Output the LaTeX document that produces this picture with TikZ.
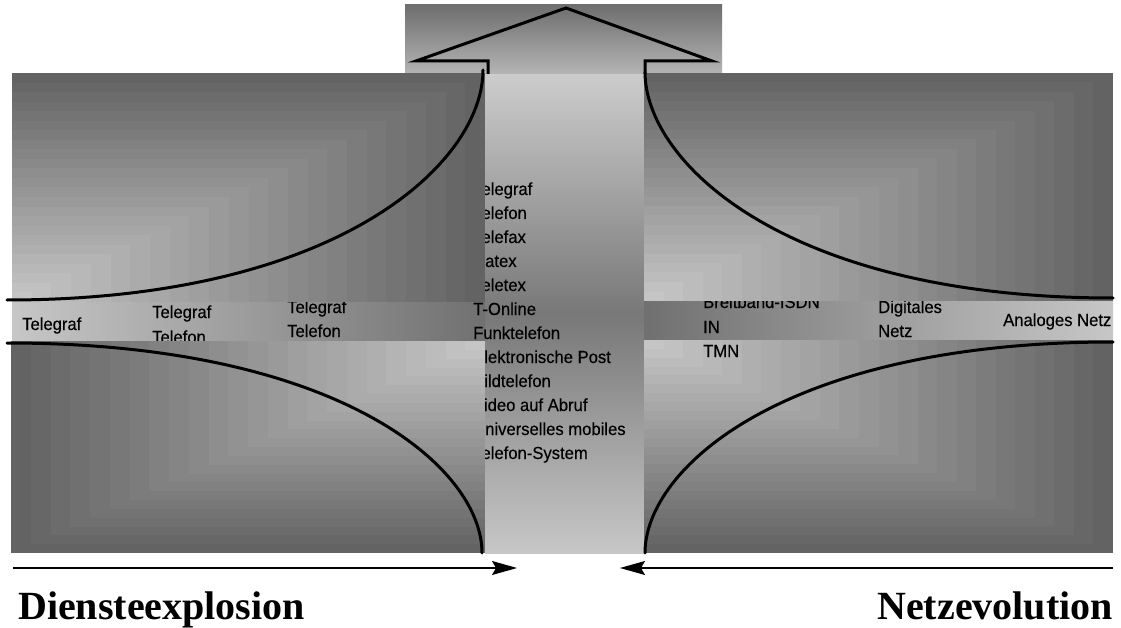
\documentclass[tikz,border=0pt]{standalone}
\usepackage{fontspec}
\setmainfont{Liberation Serif}
\newfontfamily\labelfont[FakeStretch=0.95,FakeBold=0.3]{Liberation Sans}
\usetikzlibrary{calc,arrows.meta}

% rectangle shaded in rectangular steps, light at corner (#1,#2), dark towards (#3,#4)
\newcommand\gradbox[4]{%
  \foreach \i in {24,23,...,1}{%
    \pgfmathsetmacro\pc{22+40*(\i-0.5)/24}%
    \fill[black!\pc] (#1,#2) rectangle ($(#1,#2)!\i/24!(#3,#4)$);
  }}

\begin{document}
\begin{tikzpicture}[x=1pt,y=-1pt,
  curve/.style={line width=3pt, line cap=round},
  lbl/.style={anchor=base west, inner sep=0pt, font=\labelfont\fontsize{17.5}{20}\selectfont},
  title/.style={inner sep=0pt, font=\bfseries\fontsize{40}{44}\selectfont},
  flow/.style={line width=1.2pt, -{Stealth[length=25pt,width=14pt,inset=4pt]}}]
\useasboundingbox (0,0) rectangle (1121,628);
\fill[white] (0,0) rectangle (1121,628);

% head of the big arrow
\shade[top color=black!57, bottom color=black!28] (405,5) rectangle (722,77);
\draw[line width=3pt, line join=miter] (488,76) -- (488,61) -- (416,61) -- (566,8) -- (712,61) -- (645,61) -- (645,76);

% shaft of the big arrow
\shade[top color=black!20, bottom color=black!22, middle color=black!53] (485,75) rectangle (644,553);

% horizontal bands
\shade[left color=black!22, right color=black!56] (12,302) rectangle (485,341);
\shade[left color=black!56, right color=black!22] (644,301) rectangle (1113,340);

% services in the shaft
\foreach \t [count=\k] in {Telegraf,Telefon,Telefax,Datex,Teletex,T-Online,Funktelefon,
  Elektronische Post,Bildtelefon,Video auf Abruf,Universelles mobiles,Telefon-System}
  \node[lbl] (c\k) at (473,{195+24*(\k-1)}) {\t};

% services along the left band
\node[lbl] (l1) at (22,330) {Telegraf};
\node[lbl] (l2a) at (152,318) {Telegraf};
\node[lbl] (l2b) at (152,343) {Telefon};
\node[lbl] (l3a) at (287,313) {Telegraf};
\node[lbl] (l3b) at (287,337) {Telefon};

% lower right block
\gradbox{644}{340}{1113}{553}
\draw[curve] (645,553) .. controls (645,468) and (785,342) .. (1113,342);

% networks along the right band
\node[lbl] (r1a) at (703,308) {Breitband-ISDN};
\node[lbl] (r1b) at (703,333) {IN};
\node[lbl] (r1c) at (703,357) {TMN};
\node[lbl] (r2a) at (878,313) {Digitales};
\node[lbl] (r2b) at (878,337) {Netz};
\node[lbl] (r3) at (1003,326) {Analoges Netz};

% upper right block
\gradbox{644}{301}{1113}{73}
\draw[curve] (645,72) .. controls (645,162) and (785,298) .. (1113,298);

% upper left block
\gradbox{12}{302}{485}{73}
\draw[curve] (483,70) .. controls (483,162) and (340,300) .. (7,300);

% lower left block
\gradbox{485}{341}{11}{553}
\draw[curve] (482,553) .. controls (482,468) and (340,343) .. (7,343);

% direction arrows and captions
\coordinate (ls) at (13,568);
\coordinate (le) at (517,568);
\coordinate (rs) at (1113,568);
\coordinate (re) at (620,568);
\draw[flow] (ls) -- (le);
\draw[flow] (rs) -- (re);
\node[title, anchor=base west] (dx) at (18,619) {Diensteexplosion};
\node[title, anchor=base east] (ne) at (1113,619) {Netzevolution};
\end{tikzpicture}
\end{document}
